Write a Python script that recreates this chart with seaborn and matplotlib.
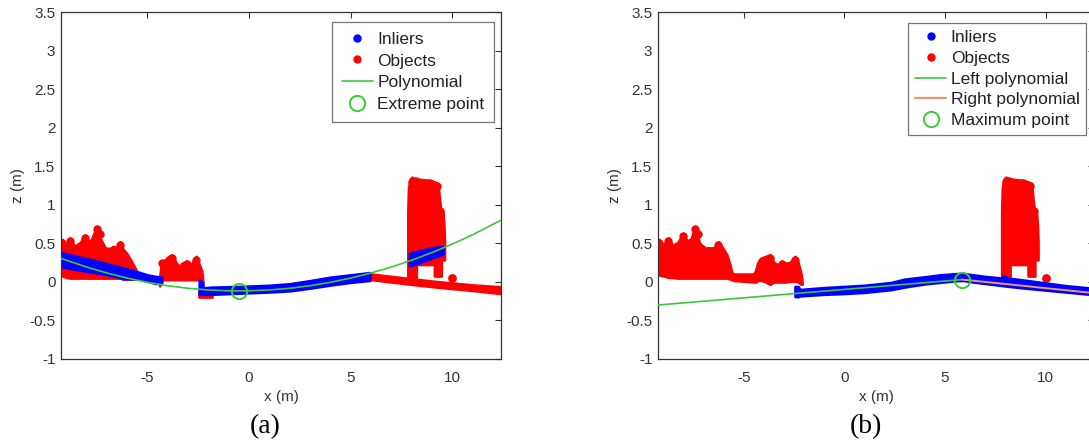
import matplotlib
matplotlib.use("Agg")
import matplotlib.pyplot as plt
from matplotlib.lines import Line2D
import seaborn as sns
import pandas as pd

# ---------------- data ----------------
# panel (a): objects (red)
a_red_left_x = [-9.26, -9.2, -9.0, -8.82, -8.6, -8.33, -8.08, -7.9, -7.75, -7.5, -7.3, -7.09, -6.85,
                -6.68, -6.5, -6.35, -6.2, -6.03, -5.8, -5.6, -5.45]
a_red_left_top = [0.50, 0.55, 0.47, 0.57, 0.46, 0.50, 0.61, 0.52, 0.55, 0.72, 0.55, 0.44, 0.43,
                  0.46, 0.44, 0.52, 0.42, 0.37, 0.27, 0.17, 0.08]
a_red_left_bot = [0.12, 0.08, 0.06, 0.05, 0.05, 0.05, 0.05, 0.05, 0.05, 0.05, 0.05, 0.05, 0.05,
                  0.05, 0.05, 0.05, 0.04, 0.04, 0.04, 0.04, 0.04]

a_red_mid_x = [-4.4, -4.3, -4.15, -3.95, -3.8, -3.6, -3.45, -3.3, -3.07, -2.85, -2.6, -2.45, -2.33, -2.28]
a_red_mid_top = [0.05, 0.27, 0.28, 0.33, 0.35, 0.25, 0.20, 0.24, 0.27, 0.22, 0.33, 0.22, 0.14, 0.0]
a_red_mid_bot = [-0.05, 0.03, 0.03, 0.03, 0.03, 0.03, 0.03, 0.03, 0.03, 0.03, 0.03, 0.03, 0.0, -0.02]

# isolated round blobs on the top of the red clouds
a_red_peak_x = [-9.2, -8.82, -8.33, -8.08, -7.75, -7.5, -7.35, -6.68, -6.35, -4.3, -3.95, -3.8, -3.07, -2.6]
a_red_peak_z = [0.51, 0.53, 0.46, 0.57, 0.51, 0.68, 0.62, 0.42, 0.48, 0.24, 0.29, 0.31, 0.23, 0.29]

a_red_under_x = [-2.45, -1.8]
a_red_under_top = [-0.12, -0.12]
a_red_under_bot = [-0.20, -0.20]

a_red_ground_x = [5.9, 7.0, 8.0, 9.0, 10.0, 11.0, 12.41]
a_red_ground_top = [0.105, 0.07, 0.04, 0.01, -0.015, -0.04, -0.065]
a_red_ground_bot = [0.035, 0.0, -0.03, -0.06, -0.085, -0.11, -0.15]

# tall object outline (both panels) and isolated point
obj_x = [7.85, 7.88, 7.95, 8.05, 8.2, 8.5, 8.9, 9.15, 9.33, 9.38, 9.45, 9.57, 9.62, 9.65, 9.65,
         9.49, 9.49, 9.16, 9.16, 8.26, 8.26, 7.85]
obj_z = [0.9, 1.2, 1.32, 1.35, 1.33, 1.32, 1.31, 1.29, 1.27, 1.12, 0.95, 0.9, 0.72, 0.5, 0.28,
         0.28, 0.07, 0.07, 0.22, 0.22, 0.05, 0.05]
obj_peak_x = [8.02, 8.2, 8.9, 9.25, 9.42]
obj_peak_z = [1.30, 1.31, 1.28, 1.25, 0.92]
dot_x = [10.0]
dot_z = [0.055]

# panel (a): inliers (blue)
a_blue_left_x = [-9.26, -8.5, -7.5, -6.5, -6.2, -5.5, -5.0, -4.6, -4.3]
a_blue_left_top = [0.38, 0.33, 0.27, 0.20, 0.18, 0.13, 0.09, 0.07, 0.06]
a_blue_left_bot = [0.20, 0.16, 0.12, 0.07, 0.04, 0.04, 0.01, -0.02, -0.01]

a_blue_mid_x = [-2.45, -2.3, -2.25, -1.9, -0.44, 1.0, 2.0, 3.0, 4.0, 5.0, 5.95]
a_blue_mid_top = [0.02, 0.0, -0.08, -0.07, -0.06, -0.045, -0.025, 0.015, 0.06, 0.09, 0.12]
a_blue_mid_bot = [-0.16, -0.16, -0.16, -0.16, -0.145, -0.13, -0.115, -0.08, -0.04, -0.005, 0.02]

a_blue_obj_x = [7.9, 8.5, 9.0, 9.55]
a_blue_obj_top = [0.37, 0.41, 0.44, 0.46]
a_blue_obj_bot = [0.21, 0.26, 0.31, 0.36]

# panel (a): polynomial and extreme point
a_poly_x = [-9.26, -8, -7, -6, -5, -4, -3, -2, -1, -0.5, 0, 1, 2, 3, 4, 5, 6, 7, 8, 9, 10, 11, 12.41]
a_poly_z = [0.305, 0.192, 0.115, 0.049, -0.006, -0.050, -0.083, -0.105, -0.116, -0.117, -0.116,
            -0.105, -0.083, -0.050, -0.006, 0.049, 0.115, 0.192, 0.280, 0.379, 0.489, 0.610, 0.800]
a_ext_x = [-0.5]
a_ext_z = [-0.117]

# panel (b): objects (red)
b_red_left_x = [-9.25, -9.2, -9.0, -8.74, -8.5, -8.3, -8.0, -7.8, -7.6, -7.42, -7.2, -6.92, -6.6, -6.4,
                -6.26, -6.0, -5.84, -5.7, -5.59, -5.5, -4.5, -4.4, -4.3, -4.1, -3.9, -3.7, -3.5, -3.3,
                -3.11, -2.95, -2.7, -2.45, -2.3, -2.15, -2.1]
b_red_left_top = [0.50, 0.55, 0.47, 0.57, 0.45, 0.50, 0.63, 0.52, 0.56, 0.72, 0.50, 0.44, 0.44, 0.45,
                  0.52, 0.42, 0.35, 0.23, 0.12, 0.10, 0.10, 0.15, 0.25, 0.31, 0.33, 0.35, 0.25, 0.22,
                  0.27, 0.24, 0.25, 0.33, 0.25, 0.10, 0.0]
b_red_left_bot = [0.11, 0.09, 0.08, 0.06, 0.06, 0.05, 0.05, 0.05, 0.05, 0.05, 0.05, 0.05, 0.05, 0.05,
                  0.05, 0.05, 0.05, 0.04, 0.03, 0.02, 0.0, 0.0, 0.02, 0.02, 0.0, -0.03, 0.0, 0.0,
                  0.0, 0.0, 0.01, 0.01, 0.0, -0.03, -0.03]
b_red_peak_x = [-9.2, -8.74, -8.3, -8.0, -7.6, -7.42, -7.28, -6.26, -4.1, -3.9, -3.7, -3.11, -2.45]
b_red_peak_z = [0.51, 0.53, 0.46, 0.59, 0.52, 0.68, 0.62, 0.48, 0.27, 0.29, 0.31, 0.23, 0.29]

# panel (b): inliers (blue)
b_blue_x = [-2.45, -2.3, -2.2, -1.0, 0, 1, 2.3, 3, 4, 4.75, 5.5, 5.9, 6.4, 7, 7.8, 7.95, 8.1, 9, 10, 11, 12.41]
b_blue_top = [-0.06, -0.06, -0.1, -0.075, -0.06, -0.045, -0.01, 0.035, 0.065, 0.09, 0.105, 0.11, 0.09,
              0.07, 0.05, 0.08, 0.05, 0.02, -0.015, -0.05, -0.085]
b_blue_bot = [-0.19, -0.19, -0.18, -0.16, -0.15, -0.135, -0.10, -0.065, -0.025, -0.005, 0.015, 0.02,
              0.0, -0.02, -0.045, -0.05, -0.055, -0.08, -0.105, -0.13, -0.165]

# panel (b): polynomials and maximum point
b_left_poly_x = [-9.25, -6, -3, 0, 3, 5.85]
b_left_poly_z = [-0.30, -0.229, -0.163, -0.098, -0.032, 0.03]
b_right_poly_x = [5.85, 8, 10, 12.41]
b_right_poly_z = [0.03, -0.027, -0.081, -0.145]
b_max_x = [5.85]
b_max_z = [0.03]

y_ticks = [-1, -0.5, 0, 0.5, 1, 1.5, 2, 2.5, 3, 3.5]
y_tick_labels = ["-1", "-0.5", "0", "0.5", "1", "1.5", "2", "2.5", "3", "3.5"]
x_ticks = [-5, 0, 5, 10]
x_tick_labels = ["-5", "0", "5", "10"]

# ---------------- style ----------------
sns.set_style("white")
plt.rcParams["font.family"] = ["Liberation Sans", "DejaVu Sans"]
plt.rcParams["axes.unicode_minus"] = False

BLUE = "#0000ff"
RED = "#ff0000"
GREEN = "#3cc83c"
ORANGE = "#ee9a68"
TXT = "#333333"

fig = plt.figure(figsize=(10.89, 4.45), dpi=100)
W, H = 1089.0, 445.0
ax_a = fig.add_axes([61 / W, 86 / H, 440 / W, 347 / H])
ax_b = fig.add_axes([658 / W, 86 / H, 436 / W, 347 / H])


def cloud(ax, x, top, bot, color):
    ax.fill_between(x, bot, top, color=color, edgecolor=color, linewidth=2.0, joinstyle="round",
                    zorder=2)


def dots(ax, x, z, color, s=36):
    sns.scatterplot(x=x, y=z, ax=ax, color=color, s=s, linewidth=0, zorder=2)


def obj_poly(ax):
    ax.fill(obj_x, obj_z, color=RED, edgecolor=RED, linewidth=2.0, joinstyle="round", zorder=2)
    dots(ax, obj_peak_x, obj_peak_z, RED)
    dots(ax, dot_x, dot_z, RED, s=40)


# panel (a)
cloud(ax_a, a_red_left_x, a_red_left_top, a_red_left_bot, RED)
cloud(ax_a, a_red_mid_x, a_red_mid_top, a_red_mid_bot, RED)
dots(ax_a, a_red_peak_x, a_red_peak_z, RED)
cloud(ax_a, a_red_under_x, a_red_under_top, a_red_under_bot, RED)
cloud(ax_a, a_red_ground_x, a_red_ground_top, a_red_ground_bot, RED)
obj_poly(ax_a)
cloud(ax_a, a_blue_left_x, a_blue_left_top, a_blue_left_bot, BLUE)
cloud(ax_a, a_blue_mid_x, a_blue_mid_top, a_blue_mid_bot, BLUE)
cloud(ax_a, a_blue_obj_x, a_blue_obj_top, a_blue_obj_bot, BLUE)
sns.lineplot(data=pd.DataFrame({"x": a_poly_x, "z": a_poly_z}), x="x", y="z", ax=ax_a,
             color=GREEN, linewidth=1.2, sort=False, estimator=None, zorder=4)
ax_a.plot(a_ext_x, a_ext_z, marker="o", markersize=11, markerfacecolor="none",
          markeredgecolor=GREEN, markeredgewidth=1.4, linestyle="none", zorder=5)

# panel (b)
cloud(ax_b, b_red_left_x, b_red_left_top, b_red_left_bot, RED)
dots(ax_b, b_red_peak_x, b_red_peak_z, RED)
obj_poly(ax_b)
cloud(ax_b, b_blue_x, b_blue_top, b_blue_bot, BLUE)
sns.lineplot(data=pd.DataFrame({"x": b_left_poly_x, "z": b_left_poly_z}), x="x", y="z", ax=ax_b,
             color=GREEN, linewidth=1.2, sort=False, estimator=None, zorder=4)
sns.lineplot(data=pd.DataFrame({"x": b_right_poly_x, "z": b_right_poly_z}), x="x", y="z", ax=ax_b,
             color=ORANGE, linewidth=1.4, sort=False, estimator=None, zorder=4)
ax_b.plot(b_max_x, b_max_z, marker="o", markersize=11, markerfacecolor="none",
          markeredgecolor=GREEN, markeredgewidth=1.4, linestyle="none", zorder=5)

for ax in (ax_a, ax_b):
    ax.set_xlim(-9.26, 12.41)
    ax.set_ylim(-1, 3.5)
    ax.set_xticks(x_ticks)
    ax.set_xticklabels(x_tick_labels)
    ax.set_yticks(y_ticks)
    ax.set_yticklabels(y_tick_labels)
    ax.tick_params(axis="both", direction="in", top=True, right=True, length=4, width=0.8,
                   colors="#333333", labelsize=11, labelcolor=TXT)
    ax.tick_params(axis="x", pad=9)
    ax.tick_params(axis="y", pad=4)
    for sp in ax.spines.values():
        sp.set_visible(True)
        sp.set_color("#333333")
        sp.set_linewidth(0.9)
    ax.set_xlabel("x (m)", fontsize=11, color=TXT, labelpad=3)
    ax.set_ylabel("z (m)", fontsize=11, color=TXT, labelpad=3)
    ax.set_facecolor("white")


def dot_handle(c):
    return Line2D([], [], marker="o", markersize=5, markerfacecolor=c, markeredgecolor=c,
                  linestyle="none")


circ = Line2D([], [], marker="o", markersize=11, markerfacecolor="none", markeredgecolor=GREEN,
              markeredgewidth=1.4, linestyle="none")

leg_kw = dict(loc="upper right", fontsize=12.5, frameon=True, fancybox=False, framealpha=1,
              edgecolor="#777777", handlelength=1.8, handletextpad=0.25, borderaxespad=0)

la = ax_a.legend([dot_handle(BLUE), dot_handle(RED), Line2D([], [], color=GREEN, lw=1.2), circ],
                 ["Inliers", "Objects", "Polynomial", "Extreme point"],
                 bbox_to_anchor=(0.984, 0.971), labelspacing=0.38, borderpad=0.55, **leg_kw)
lb = ax_b.legend([dot_handle(BLUE), dot_handle(RED), Line2D([], [], color=GREEN, lw=1.2),
                  Line2D([], [], color=ORANGE, lw=1.6), circ],
                 ["Inliers", "Objects", "Left polynomial", "Right polynomial", "Maximum point"],
                 bbox_to_anchor=(0.982, 0.968), labelspacing=0.33, borderpad=0.38, **leg_kw)
for lg in (la, lb):
    lg.get_frame().set_linewidth(0.9)
    for t in lg.get_texts():
        t.set_color("#222222")

fig.text(265 / W, 1 - 427 / H, "(a)", family=["Liberation Serif", "DejaVu Serif"], fontsize=20,
         ha="center", va="center", color="black")
fig.text(866 / W, 1 - 427 / H, "(b)", family=["Liberation Serif", "DejaVu Serif"], fontsize=20,
         ha="center", va="center", color="black")

fig.savefig("out.png", dpi=100)
